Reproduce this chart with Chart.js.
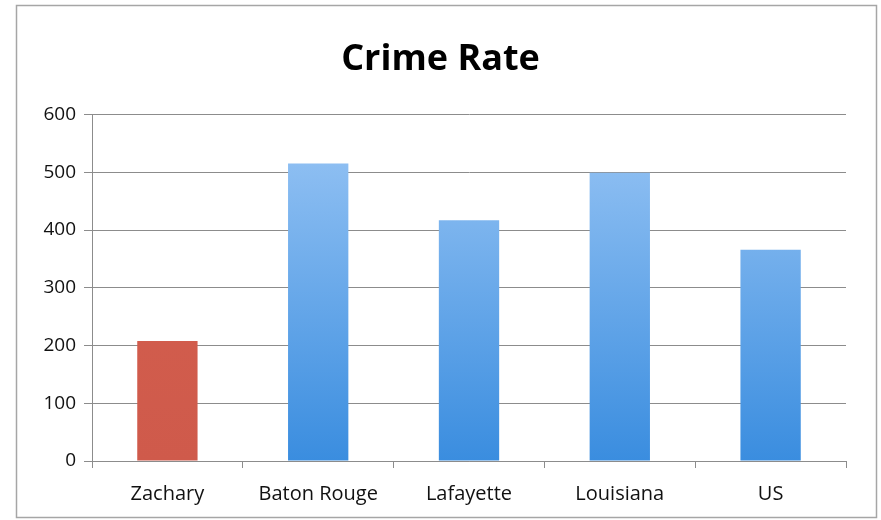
<!DOCTYPE html>
<html>
<head>
<meta charset="utf-8">
<script src="https://cdn.jsdelivr.net/npm/chart.js@4"></script>
<style>
  html, body { margin: 0; padding: 0; background: #fff; }
  #wrap { width: 881px; height: 520px; position: relative; }
</style>
</head>
<body>
<div id="wrap"><canvas id="grafica_crimen"></canvas></div>
<script>
const categorias = ["Zachary", "Baton Rouge", "Lafayette", "Louisiana", "US"];
const tasas = [208, 515, 417, 499, 366];
const colorBarra = ["red", "blue", "blue", "blue", "blue"];

// marco gris alrededor de la grafica
const marco = {
  id: 'marco',
  beforeDraw(chart) {
    const c = chart.ctx;
    c.save();
    c.fillStyle = '#fff';
    c.fillRect(0, 0, chart.width, chart.height);
    c.strokeStyle = '#a6a6a6';
    c.lineWidth = 1.5;
    c.strokeRect(16.5, 5.5, 860, 512);
    c.restore();
  }
};

function rellenoBarra(context) {
  const chart = context.chart;
  const area = chart.chartArea;
  if (!area) return null;
  const tipo = colorBarra[context.dataIndex];
  const g = chart.ctx.createLinearGradient(0, area.top, 0, area.bottom);
  if (tipo === "red") {
    g.addColorStop(0, '#d5604f');
    g.addColorStop(1, '#cf5a4b');
  } else {
    g.addColorStop(0, '#9ac6f5');
    g.addColorStop(1, '#3a8ddf');
  }
  return g;
}

function inicializarChartCrimen() {
  const ctx = document.getElementById("grafica_crimen").getContext("2d");
  new Chart(ctx, {
    type: 'bar',
    data: {
      labels: categorias,
      datasets: [{
        label: 'Crime Rate',
        data: tasas,
        backgroundColor: rellenoBarra,
        borderWidth: 0,
        barPercentage: 0.4,
        categoryPercentage: 1
      }]
    },
    options: {
      responsive: true,
      maintainAspectRatio: false,
      animation: false,
      layout: { padding: 0 },
      scales: {
        x: {
          grid: {
            offset: true,
            drawOnChartArea: false,
            drawTicks: true,
            tickLength: 7,
            color: '#8c8c8c'
          },
          border: { color: '#8c8c8c', width: 1 },
          ticks: {
            color: '#111',
            padding: 14,
            font: { family: 'Open Sans', size: 20 }
          },
          afterFit: (scale) => { scale.height = 59; }
        },
        y: {
          min: 0,
          max: 600,
          ticks: {
            stepSize: 100,
            color: '#111',
            padding: 8,
            font: { family: 'Open Sans', size: 19 }
          },
          grid: {
            color: '#8c8c8c',
            tickLength: 8
          },
          border: { color: '#8c8c8c', width: 1 },
          afterFit: (scale) => { scale.width = 92; }
        },
        // eje vacio a la derecha, solo para dejar el margen
        derecha: {
          type: 'linear',
          position: 'right',
          display: true,
          grid: { display: false, drawTicks: false },
          border: { display: false },
          ticks: { display: false },
          afterFit: (scale) => { scale.width = 35; }
        }
      },
      plugins: {
        legend: { display: false },
        tooltip: { enabled: false },
        title: {
          display: true,
          text: 'Crime Rate',
          color: '#000',
          font: { family: 'Open Sans', size: 36, weight: 'bold', lineHeight: 1.2 },
          padding: { top: 38.5, bottom: 32.8 }
        }
      }
    },
    plugins: [marco]
  });
}

inicializarChartCrimen();
</script>
</body>
</html>
